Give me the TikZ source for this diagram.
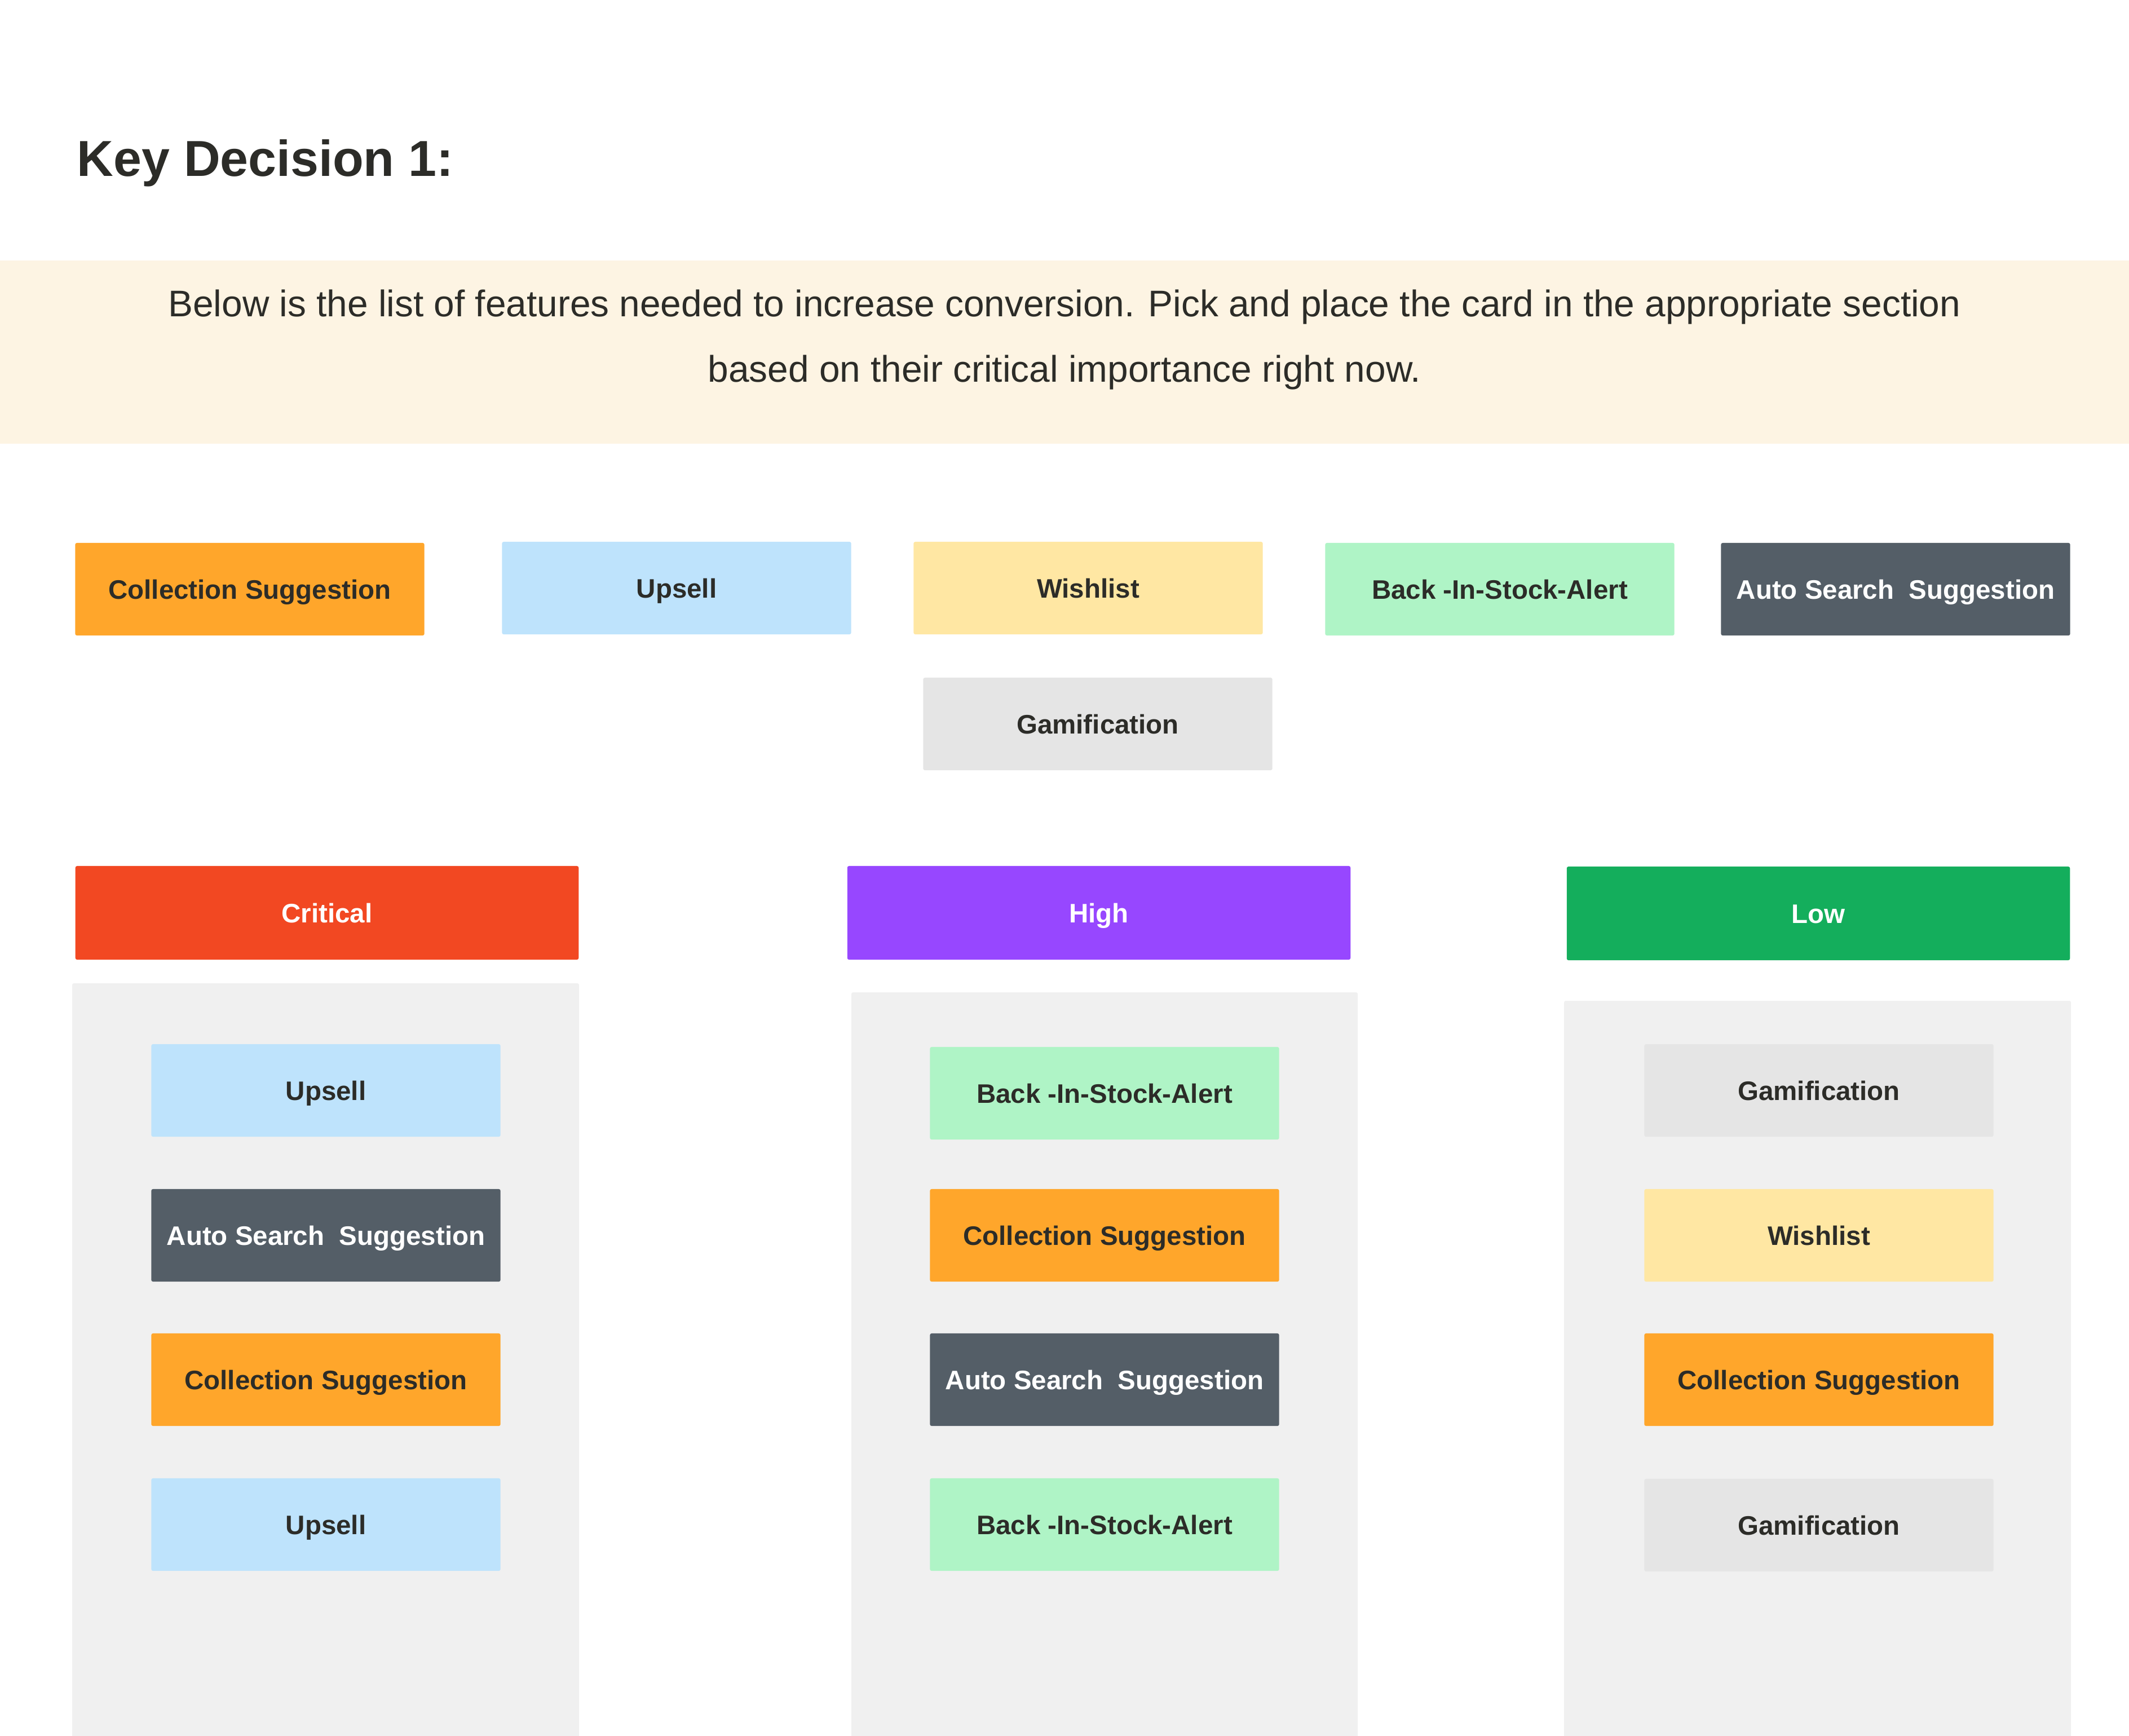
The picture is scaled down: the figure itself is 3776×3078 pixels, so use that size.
\documentclass[tikz,border=0pt]{standalone}
\usepackage{fontspec}
\setmainfont{Liberation Sans}
\usepackage{tikz}
\usetikzlibrary{positioning}

\definecolor{inkdark}{HTML}{2C2C28}
\definecolor{bannerbg}{HTML}{FDF4E3}
\definecolor{panelbg}{HTML}{F0F0F0}
\definecolor{cardorange}{HTML}{FFA62B}
\definecolor{cardblue}{HTML}{BEE3FC}
\definecolor{cardyellow}{HTML}{FFE7A3}
\definecolor{cardgreen}{HTML}{AFF4C6}
\definecolor{cardslate}{HTML}{545E67}
\definecolor{cardgrey}{HTML}{E5E5E5}
\definecolor{hdrred}{HTML}{F24822}
\definecolor{hdrpurple}{HTML}{9747FF}
\definecolor{hdrgreen}{HTML}{14AE5C}

\tikzset{
	card/.style={rounded corners=0.03cm, inner sep=0pt, minimum width=6.19cm, minimum height=1.64cm,
		text height=9.7pt, text depth=0pt, text=inkdark, font=\fontsize{13.5}{16}\selectfont\bfseries},
	header/.style={card, minimum width=8.92cm, minimum height=1.66cm, text=white},
	panel/.style={fill=panelbg, rounded corners=0.03cm}
}

\begin{document}
\begin{tikzpicture}[x=0.01cm, y=-0.01cm]
\useasboundingbox[fill=white] (0, 0) rectangle (3776, 3078);
\node[anchor=base west, inner sep=0pt, text=inkdark, font=\fontsize{25.5}{30}\selectfont\bfseries] (title) at (136, 312) {Key Decision 1:};
\fill[bannerbg] (0, 462) rectangle (3776, 787);
\node[anchor=base, inner sep=0pt, text=inkdark, font=\fontsize{18.7}{22}\selectfont] (intro1) at (1888, 561) {Below is the list of features needed to increase conversion. Pick and place the card in the appropriate section};
\node[anchor=base, inner sep=0pt, text=inkdark, font=\fontsize{18.7}{22}\selectfont] (intro2) at (1888, 677) {based on their critical importance right now.};

\node[card, fill=cardorange] (pickcoll) at (443, 1045) {Collection Suggestion};
\node[card, fill=cardblue] (pickups) at (1200, 1043) {Upsell};
\node[card, fill=cardyellow] (pickwish) at (1930, 1043) {Wishlist};
\node[card, fill=cardgreen] (pickback) at (2660, 1045) {Back -In-Stock-Alert};
\node[card, fill=cardslate, text=white] (pickauto) at (3362, 1045) {Auto Search\ \ Suggestion};
\node[card, fill=cardgrey] (pickgame) at (1947, 1284) {Gamification};

\node[header, fill=hdrred] (critical) at (580, 1619) {Critical};
\node[header, fill=hdrpurple] (high) at (1949, 1619) {High};
\node[header, fill=hdrgreen] (low) at (3225, 1620) {Low};

\fill[panel] (128, 1744) rectangle (1027, 3090);
\fill[panel] (1510, 1760) rectangle (2408, 3090);
\fill[panel] (2774, 1775) rectangle (3673, 3090);

\node[card, fill=cardblue] (crit1) at (578, 1934) {Upsell};
\node[card, fill=cardslate, text=white] (crit2) at (578, 2191) {Auto Search\ \ Suggestion};
\node[card, fill=cardorange] (crit3) at (578, 2447) {Collection Suggestion};
\node[card, fill=cardblue] (crit4) at (578, 2704) {Upsell};

\node[card, fill=cardgreen] (high1) at (1959, 1939) {Back -In-Stock-Alert};
\node[card, fill=cardorange] (high2) at (1959, 2191) {Collection Suggestion};
\node[card, fill=cardslate, text=white] (high3) at (1959, 2447) {Auto Search\ \ Suggestion};
\node[card, fill=cardgreen] (high4) at (1959, 2704) {Back -In-Stock-Alert};

\node[card, fill=cardgrey] (low1) at (3226, 1934) {Gamification};
\node[card, fill=cardyellow] (low2) at (3226, 2191) {Wishlist};
\node[card, fill=cardorange] (low3) at (3226, 2447) {Collection Suggestion};
\node[card, fill=cardgrey] (low4) at (3226, 2705) {Gamification};
\end{tikzpicture}
\end{document}
